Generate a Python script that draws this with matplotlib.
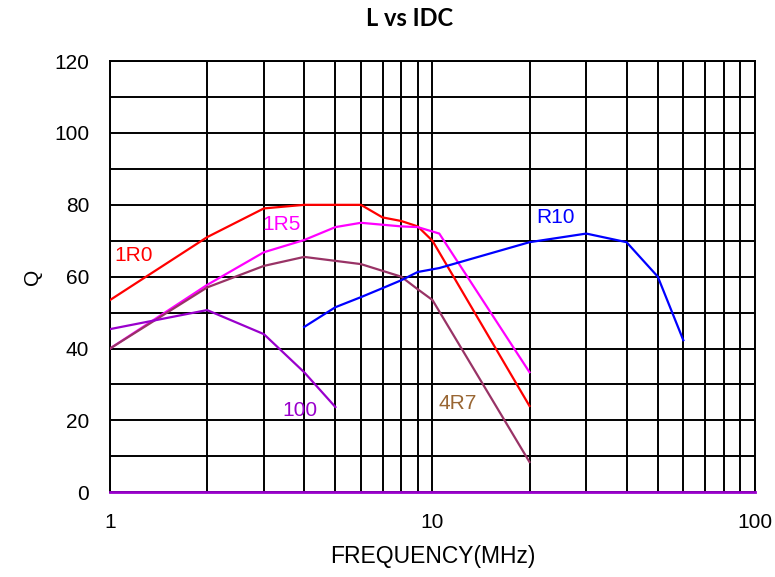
import matplotlib
matplotlib.use("Agg")
import matplotlib.pyplot as plt
from matplotlib.ticker import FixedLocator, NullFormatter

plt.rcParams['font.family'] = ['Liberation Sans', 'DejaVu Sans']

# series (frequency MHz, Q)
f_1r0 = [1, 2, 3, 4, 6, 7, 8, 9, 10, 20]
q_1r0 = [53.5, 71, 79, 80, 80, 76.5, 75.5, 74, 70, 24]

f_1r5 = [1, 2, 3, 4, 5, 6, 8, 9, 10.5, 20]
q_1r5 = [40, 57.7, 66.8, 70.2, 73.8, 75, 74, 73.8, 72, 33.4]

f_4r7 = [1, 2, 3, 4, 6, 8, 9, 10, 20]
q_4r7 = [40, 57, 63, 65.5, 63.5, 60, 56.5, 53.5, 8.4]

f_r10 = [4, 5, 6, 7, 8, 9, 10.5, 20, 30, 40, 50, 60]
q_r10 = [46, 51.5, 54.3, 56.8, 59, 61.3, 62.4, 69.6, 72, 69.6, 60, 42.3]

f_100 = [1, 2, 3, 4, 5]
q_100 = [45.4, 50.7, 44, 33.4, 23.7]

series = [
    (f_1r0, q_1r0, '#FF0000', '1R0', 1.18, 66, '#FF0000'),
    (f_1r5, q_1r5, '#FF00FF', '1R5', 3.41, 74.4, '#FF00FF'),
    (f_4r7, q_4r7, '#993366', '4R7', 12.0, 24.8, '#996633'),
    (f_r10, q_r10, '#0000FF', 'R10', 24.0, 76.6, '#0000FF'),
    (f_100, q_100, '#9900CC', '100', 3.88, 22.8, '#9900CC'),
]

fig = plt.figure(figsize=(7.75, 5.77), dpi=100)
ax = fig.add_axes([0.142, 0.147, 0.832, 0.747])

for f, q, col, name, lx, ly, tcol in series:
    ax.plot(f, q, color=col, lw=1.6, zorder=3)
    ax.text(lx, ly, name, color=tcol, fontsize=15, ha='center', va='center', zorder=4)

ax.axhline(0, color='#9900CC', lw=2, zorder=4, clip_on=False)

ax.set_xscale('log')
ax.set_xlim(1, 100)
ax.set_ylim(0, 120)
ax.set_yticks(range(0, 121, 20))
ax.yaxis.set_minor_locator(FixedLocator(range(10, 120, 20)))
ax.set_xticks([1, 10, 100])
ax.set_xticklabels(['1', '10', '100'])
ax.xaxis.set_minor_formatter(NullFormatter())
ax.grid(True, which='both', color='black', lw=1.4)
ax.tick_params(which='both', length=0, labelsize=15)
ax.tick_params(axis='x', pad=15)
ax.tick_params(axis='y', pad=15)
for s in ax.spines.values():
    s.set_color('black')
    s.set_linewidth(1.4)

ax.set_xlabel('FREQUENCY(MHz)', fontsize=16.5, labelpad=9)
ax.set_ylabel('Q', fontsize=15, rotation=90, labelpad=9)
fig.text(0.528, 0.968, 'L vs IDC', ha='center', va='center',
         fontsize=17, fontweight='bold', family=['Lato', 'DejaVu Sans'])

fig.savefig('out.png', dpi=100)
